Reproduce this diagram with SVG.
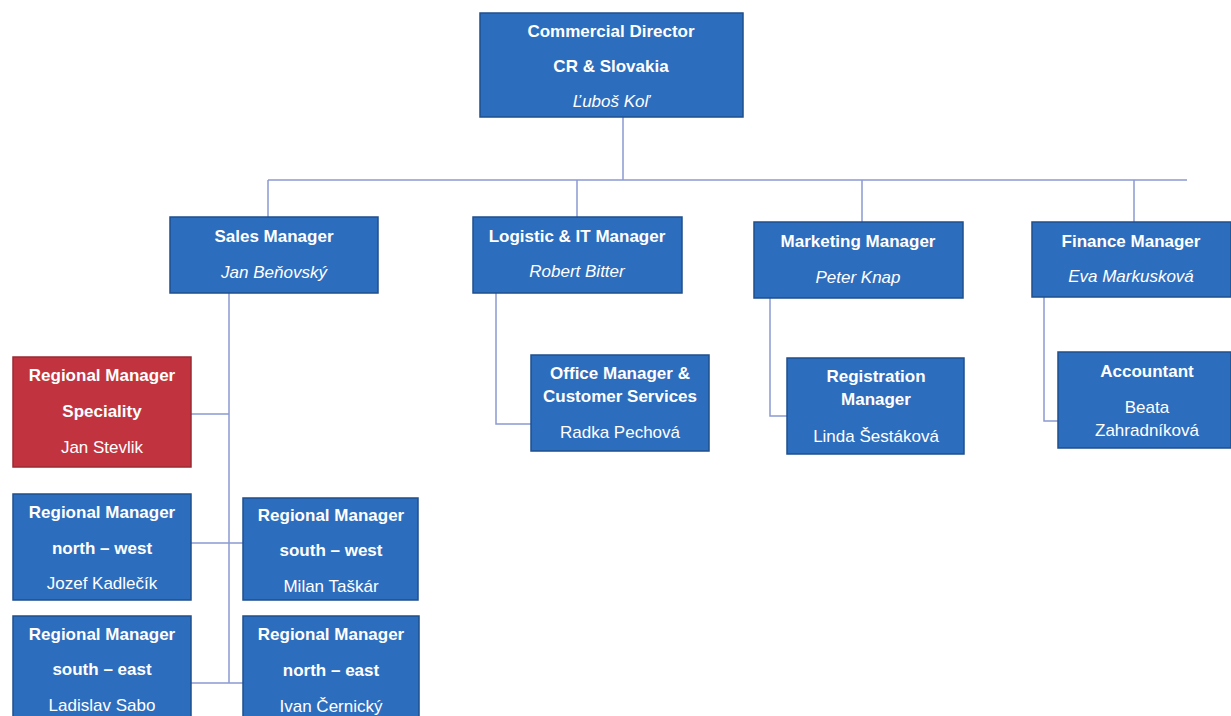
<svg xmlns="http://www.w3.org/2000/svg" width="1231" height="716" viewBox="0 0 1231 716">
<style>
.box{fill:#2d6dbd;stroke:#1e4f8e;stroke-width:1.5}
.red{fill:#c1343f;stroke:#9a2a33;stroke-width:1.5}
text{font-family:"Liberation Sans",Arial,sans-serif;font-size:17px;fill:#fff;text-anchor:middle}
.b{font-weight:bold}
.i{font-style:italic}
.ln{fill:none;stroke:#8c9bd2;stroke-width:1.5}
</style>
<rect width="1231" height="716" fill="#fff"/>
<g id="connectors" class="ln">
<path d="M623 117V180M268 180H1187M268 180V217M577 180V217M862 180V222M1134 180V222"/>
<path d="M496 293V424H531"/>
<path d="M770 298V416H787"/>
<path d="M1044 297V421H1058"/>
<path d="M229 293V683M191 414H229M191 543H243M191 683H243"/>
</g>
<g id="director"><rect class="box" x="480" y="13" width="263" height="104"/>
<text class="b" x="611" y="37">Commercial Director</text>
<text class="b" x="611" y="72">CR &amp; Slovakia</text>
<text class="i" x="611" y="107">Ľuboš Koľ</text></g>
<g id="sales"><rect class="box" x="170" y="217" width="208" height="76"/>
<text class="b" x="274" y="242">Sales Manager</text>
<text class="i" x="274" y="278">Jan Beňovský</text></g>
<g id="logistic"><rect class="box" x="473" y="217" width="209" height="76"/>
<text class="b" x="577" y="242">Logistic &amp; IT Manager</text>
<text class="i" x="577" y="277">Robert Bitter</text></g>
<g id="marketing"><rect class="box" x="754" y="222" width="209" height="76"/>
<text class="b" x="858" y="247">Marketing Manager</text>
<text class="i" x="858" y="283">Peter Knap</text></g>
<g id="finance"><rect class="box" x="1032" y="222" width="199" height="75"/>
<text class="b" x="1131" y="247">Finance Manager</text>
<text class="i" x="1131" y="282">Eva Markusková</text></g>
<g id="office"><rect class="box" x="531" y="355" width="178" height="96"/>
<text class="b" x="620" y="379">Office Manager &amp;</text>
<text class="b" x="620" y="402">Customer Services</text>
<text x="620" y="438">Radka Pechová</text></g>
<g id="registration"><rect class="box" x="787" y="358" width="177" height="96"/>
<text class="b" x="876" y="382">Registration</text>
<text class="b" x="876" y="405">Manager</text>
<text x="876" y="442">Linda Šestáková</text></g>
<g id="accountant"><rect class="box" x="1058" y="352" width="173" height="96"/>
<text class="b" x="1147" y="377">Accountant</text>
<text x="1147" y="413">Beata</text>
<text x="1147" y="436">Zahradníková</text></g>
<g id="rm-speciality"><rect class="red" x="13" y="357" width="178" height="110"/>
<text class="b" x="102" y="381">Regional Manager</text>
<text class="b" x="102" y="417">Speciality</text>
<text x="102" y="453">Jan Stevlik</text></g>
<g id="rm-nw"><rect class="box" x="13" y="494" width="178" height="106"/>
<text class="b" x="102" y="518">Regional Manager</text>
<text class="b" x="102" y="554">north – west</text>
<text x="102" y="589">Jozef Kadlečík</text></g>
<g id="rm-sw"><rect class="box" x="243" y="498" width="175" height="102"/>
<text class="b" x="331" y="521">Regional Manager</text>
<text class="b" x="331" y="556">south – west</text>
<text x="331" y="592">Milan Taškár</text></g>
<g id="rm-se"><rect class="box" x="13" y="616" width="178" height="110"/>
<text class="b" x="102" y="640">Regional Manager</text>
<text class="b" x="102" y="675">south – east</text>
<text x="102" y="711">Ladislav Sabo</text></g>
<g id="rm-ne"><rect class="box" x="243" y="616" width="176" height="110"/>
<text class="b" x="331" y="640">Regional Manager</text>
<text class="b" x="331" y="676">north – east</text>
<text x="331" y="712">Ivan Černický</text></g>
</svg>
